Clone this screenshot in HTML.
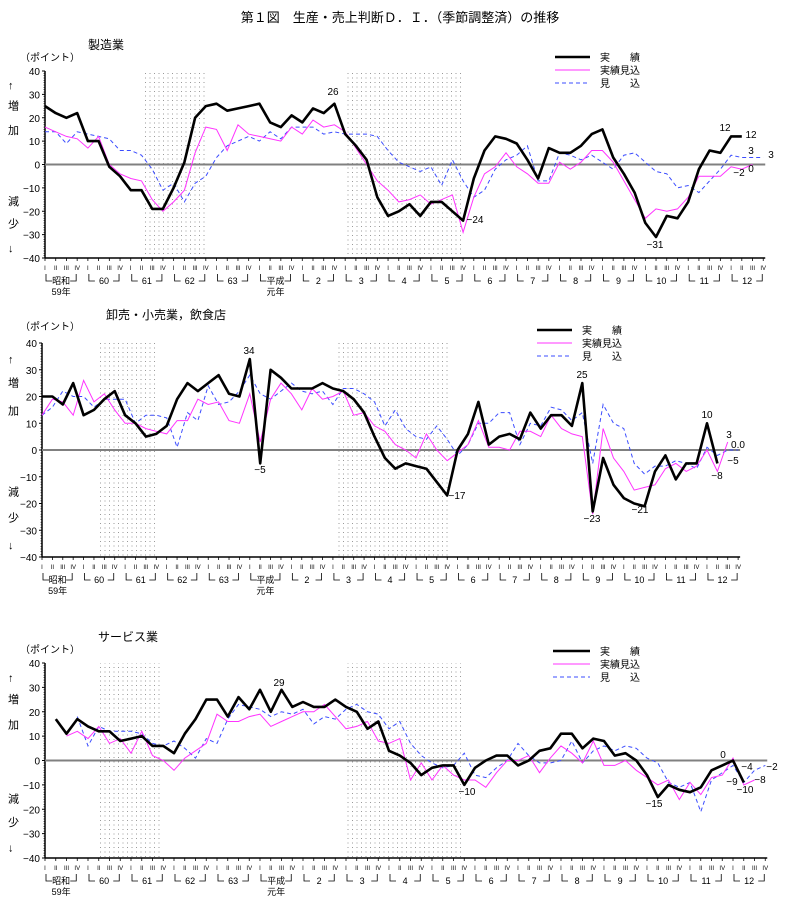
<!DOCTYPE html>
<html><head><meta charset="utf-8">
<style>
body{margin:0;background:#fff;width:800px;height:900px;overflow:hidden}
svg{display:block}
text{font-family:"Liberation Sans","Noto Sans CJK JP",sans-serif;fill:#000}
</style></head><body>
<svg id="s" width="800" height="900" xmlns="http://www.w3.org/2000/svg">
<defs>
<pattern id="dots" width="4.5" height="4.5" patternUnits="userSpaceOnUse">
<rect x="1" y="1" width="1" height="1" fill="#999"/>
</pattern>
</defs>
<text x="400" y="22" font-size="13" text-anchor="middle">第１図　生産・売上判断Ｄ．Ｉ．（季節調整済）の推移</text>
</svg>
<script>
const S=document.getElementById('s');
function el(t,a,txt){const e=document.createElementNS('http://www.w3.org/2000/svg',t);for(const k in a)e.setAttribute(k,a[k]);if(txt!==undefined)e.textContent=txt;S.appendChild(e);return e;}
const charts=[
{ax:45,top:71,bot:258,x0:45,sp:10.72,title:"製造業",tx:88,ty:49,py:61,shade:[[143,207],[345,462]],leg:[555,590,57],
 black:{0:[25,22,20,22,10,10,-1,-5,-11,-11,-19,-19,-10,1,20,25,26,23,24,25,26,18,16,21,18,24,22,26,13,8,2,-14,-22,-20,-17,-22,-16,-16,-20,-24,-6,6,12,11,9,2,-6,7,5,5,8,13,15,3,-4,-12,-25,-31,-22,-23,-16,-2,6,5,12,12]},
 mag:{0:[16,14,12,11,7,12,0,-4,-6,-7,-15,-20,-16,-11,5,16,15,6,17,13,12,11,10,16,13,19,16,17,14,7,0,-7,-11,-16,-15,-13,-17,-15,-13,-29,-14,-4,-1,5,-1,-4,-8,-8,1,-2,1,6,6,1,-7,-15,-23,-19,-20,-19,-14,-5,-5,-5,-1,-2,0]},
 blue:{0:[14,14,9,14,13,12,11,6,6,4,-2,-11,-8,-16,-8,-5,3,8,10,12,10,14,11,16,16,16,13,14,13,13,13,12,6,1,-1,-3,-1,-9,2,-7,-14,-11,-2,2,4,8,-7,-7,5,4,2,4,1,-2,4,5,1,-3,-4,-10,-9,-12,-7,-2,4,3,3,3]},
 labels:[["26",333,95],["−24",475,223],["−31",655,248],["12",725,131],["12",751,138],["3",751,154],["3",771,158],["−2",739,176],["0",751,172]]},
{ax:42,top:343,bot:557,x0:42,sp:10.39,title:"卸売・小売業，飲食店",tx:106,ty:319,py:330,shade:[[98,158],[335,448]],leg:[537,572,330],
 black:{0:[20,20,17,25,13,15,19,22,13,10,5,6,9,19,25,22,25,28,21,20,34,-5,30,27,23,23,23,25,23,22,19,14,5,-3,-7,-5,-6,-7,-12,-17,0,6,18,2,5,6,4,14,8,13,13,9,25,-23,-3,-13,-18,-20,-21,-8,-2,-11,-5,-5,10,-5]},
 mag:{0:[13,19,18,13,26,18,21,15,10,10,8,7,6,11,11,19,17,18,11,10,21,3,19,25,21,15,23,19,20,22,13,14,9,7,2,0,-3,6,0,-4,-1,2,11,1,1,0,7,7,5,13,8,6,5,-24,8,-3,-8,-15,-14,-13,-7,-5,-8,-6,0,-8,3]},
 blue:{0:[13,16,22,20,20,16,19,19,19,10,13,13,12,1,14,11,24,17,18,22,28,21,19,22,25,22,21,22,17,23,23,21,18,9,15,8,5,4,9,4,-2,2,10,10,14,14,2,10,9,16,15,11,14,-5,17,10,8,-5,-9,-6,-6,-4,-5,-7,1,-2,0,0]},
 labels:[["34",249,354],["−5",260,473],["−17",457,499],["25",582,378],["−23",592,522],["−21",640,513],["10",707,418],["3",729,438],["0.0",738,448],["−5",733,464],["−8",717,479]]},
{ax:45,top:663,bot:858,x0:45,sp:10.75,title:"サービス業",tx:98,ty:641,py:653,shade:[[100,163],[344,462]],leg:[553,590,651],
 black:{1:[17,11,17,14,12,12,8,9,10,6,6,3,11,17,25,25,18,26,21,29,20,29,22,24,22,22,25,22,20,13,16,4,2,-1,-6,-3,-2,-2,-10,-3,0,2,2,-2,0,4,5,11,11,5,9,8,2,3,0,-6,-15,-10,-12,-13,-11,-4,-2,0,-9]},
 mag:{2:[10,12,9,14,7,9,3,12,2,0,-4,1,4,7,19,16,16,18,19,14,16,18,20,20,23,18,13,14,16,8,7,9,-8,-1,-8,-2,-6,-8,-8,-11,-5,0,0,2,-5,1,6,3,-1,8,-2,-2,0,-4,-7,-10,-8,-16,-9,-14,-7,-6,1,-10,-8]},
 blue:{3:[18,6,14,12,12,12,11,7,6,8,5,1,9,7,17,23,22,21,18,20,19,21,15,18,17,21,23,20,19,13,16,7,2,-1,-3,-2,3,-6,-7,-3,0,7,2,-1,-1,0,8,-1,4,6,4,6,5,1,-1,-9,-11,-9,-21,-8,-5,-2,-9,-4,-2]},
 labels:[["29",279,686],["−10",467,795],["−15",654,807],["0",723,758],["−9",732,785],["−10",745,793],["−4",747,770],["−8",760,783],["−2",772,770]]}
];
const yrs=["昭和","60","61","62","63","平成","2","3","4","5","6","7","8","9","10","11","12"];
const rom=["I","II","III","IV"];
charts.forEach(c=>{
 const Y=v=>c.bot-(v+40)*(c.bot-c.top)/80, X=i=>c.x0+i*c.sp, end=X(67)+2;
 c.shade.forEach(s=>el('rect',{x:s[0],y:c.top,width:s[1]-s[0],height:c.bot-c.top,fill:'url(#dots)'}));
 el('text',{x:c.tx,y:c.ty,'font-size':12},c.title);
 el('text',{x:20,y:c.py,'font-size':10},"（ポイント）");
 el('line',{x1:c.ax,y1:c.top,x2:c.ax,y2:c.bot,stroke:'#000','stroke-width':1.5});
 for(let v=-40;v<=40;v+=10){const y=Y(v);el('line',{x1:c.ax-3,y1:y,x2:c.ax,y2:y,stroke:'#000'});
  for(let k=1;k<10;k++){if(v<40){el('line',{x1:c.ax-1.5,y1:Y(v+k),x2:c.ax,y2:Y(v+k),stroke:'#000','stroke-width':0.6});}}
  el('text',{x:c.ax-5,y:y+4,'font-size':10,'text-anchor':'end'},(v<0?"−":"")+Math.abs(v));}
 const h=c.bot-c.top;
 [["↑",.07],["増",.18],["加",.31],["減",.69],["少",.81],["↓",.94]].forEach(a=>el('text',{x:8,y:c.top+a[1]*h+5,'font-size':11},a[0]));
 el('line',{x1:c.ax,y1:Y(0),x2:end,y2:Y(0),stroke:'#808080','stroke-width':2});
 el('line',{x1:c.ax,y1:c.bot,x2:end,y2:c.bot,stroke:'#000','stroke-width':1.5});
 for(let i=0;i<=67;i++){const x=X(i);el('line',{x1:x,y1:c.bot,x2:x,y2:c.bot+3,stroke:'#000','stroke-width':0.8});
  el('text',{x:x,y:c.bot+12,'font-size':6,'text-anchor':'middle','font-family':'Liberation Serif'},rom[i%4]);}
 yrs.forEach((t,k)=>{const x1=X(k*4)+1,x2=X(k*4+3)-1,yb=c.bot+23;
  el('path',{d:`M${x1} ${yb-7}V${yb}H${x1+6}M${x2-6} ${yb}H${x2}V${yb-7}`,stroke:'#000',fill:'none','stroke-width':0.8});
  el('text',{x:(x1+x2)/2,y:yb+3,'font-size':9,'text-anchor':'middle'},t);});
 el('text',{x:X(1.5),y:c.bot+37,'font-size':9,'text-anchor':'middle'},"59年");
 el('text',{x:X(21.5),y:c.bot+37,'font-size':9,'text-anchor':'middle'},"元年");
 const pl=(o,st)=>{for(const s in o){const d=o[s].map((v,j)=>X(+s+j).toFixed(1)+","+Y(v).toFixed(1)).join(" ");el('polyline',Object.assign({points:d,fill:'none'},st));}};
 pl(c.blue,{stroke:'#3b4cff','stroke-width':1,'stroke-dasharray':'4,3'});
 pl(c.mag,{stroke:'#ff33ff','stroke-width':1});
 pl(c.black,{stroke:'#000','stroke-width':2.6,'stroke-linejoin':'round'});
 c.labels.forEach(l=>el('text',{x:l[1],y:l[2],'font-size':10,'text-anchor':'middle'},l[0]));
 const [a,b,ly]=c.leg;
 el('line',{x1:a,y1:ly,x2:b,y2:ly,stroke:'#000','stroke-width':2.5});
 el('line',{x1:a,y1:ly+13,x2:b,y2:ly+13,stroke:'#ff33ff','stroke-width':1});
 el('line',{x1:a,y1:ly+26,x2:b,y2:ly+26,stroke:'#3b4cff','stroke-width':1,'stroke-dasharray':'4,3'});
 el('text',{x:b+10,y:ly+4,'font-size':10},"実　　績");
 el('text',{x:b+10,y:ly+17,'font-size':10},"実績見込");
 el('text',{x:b+10,y:ly+30,'font-size':10},"見　　込");
});
</script>
</body></html>
